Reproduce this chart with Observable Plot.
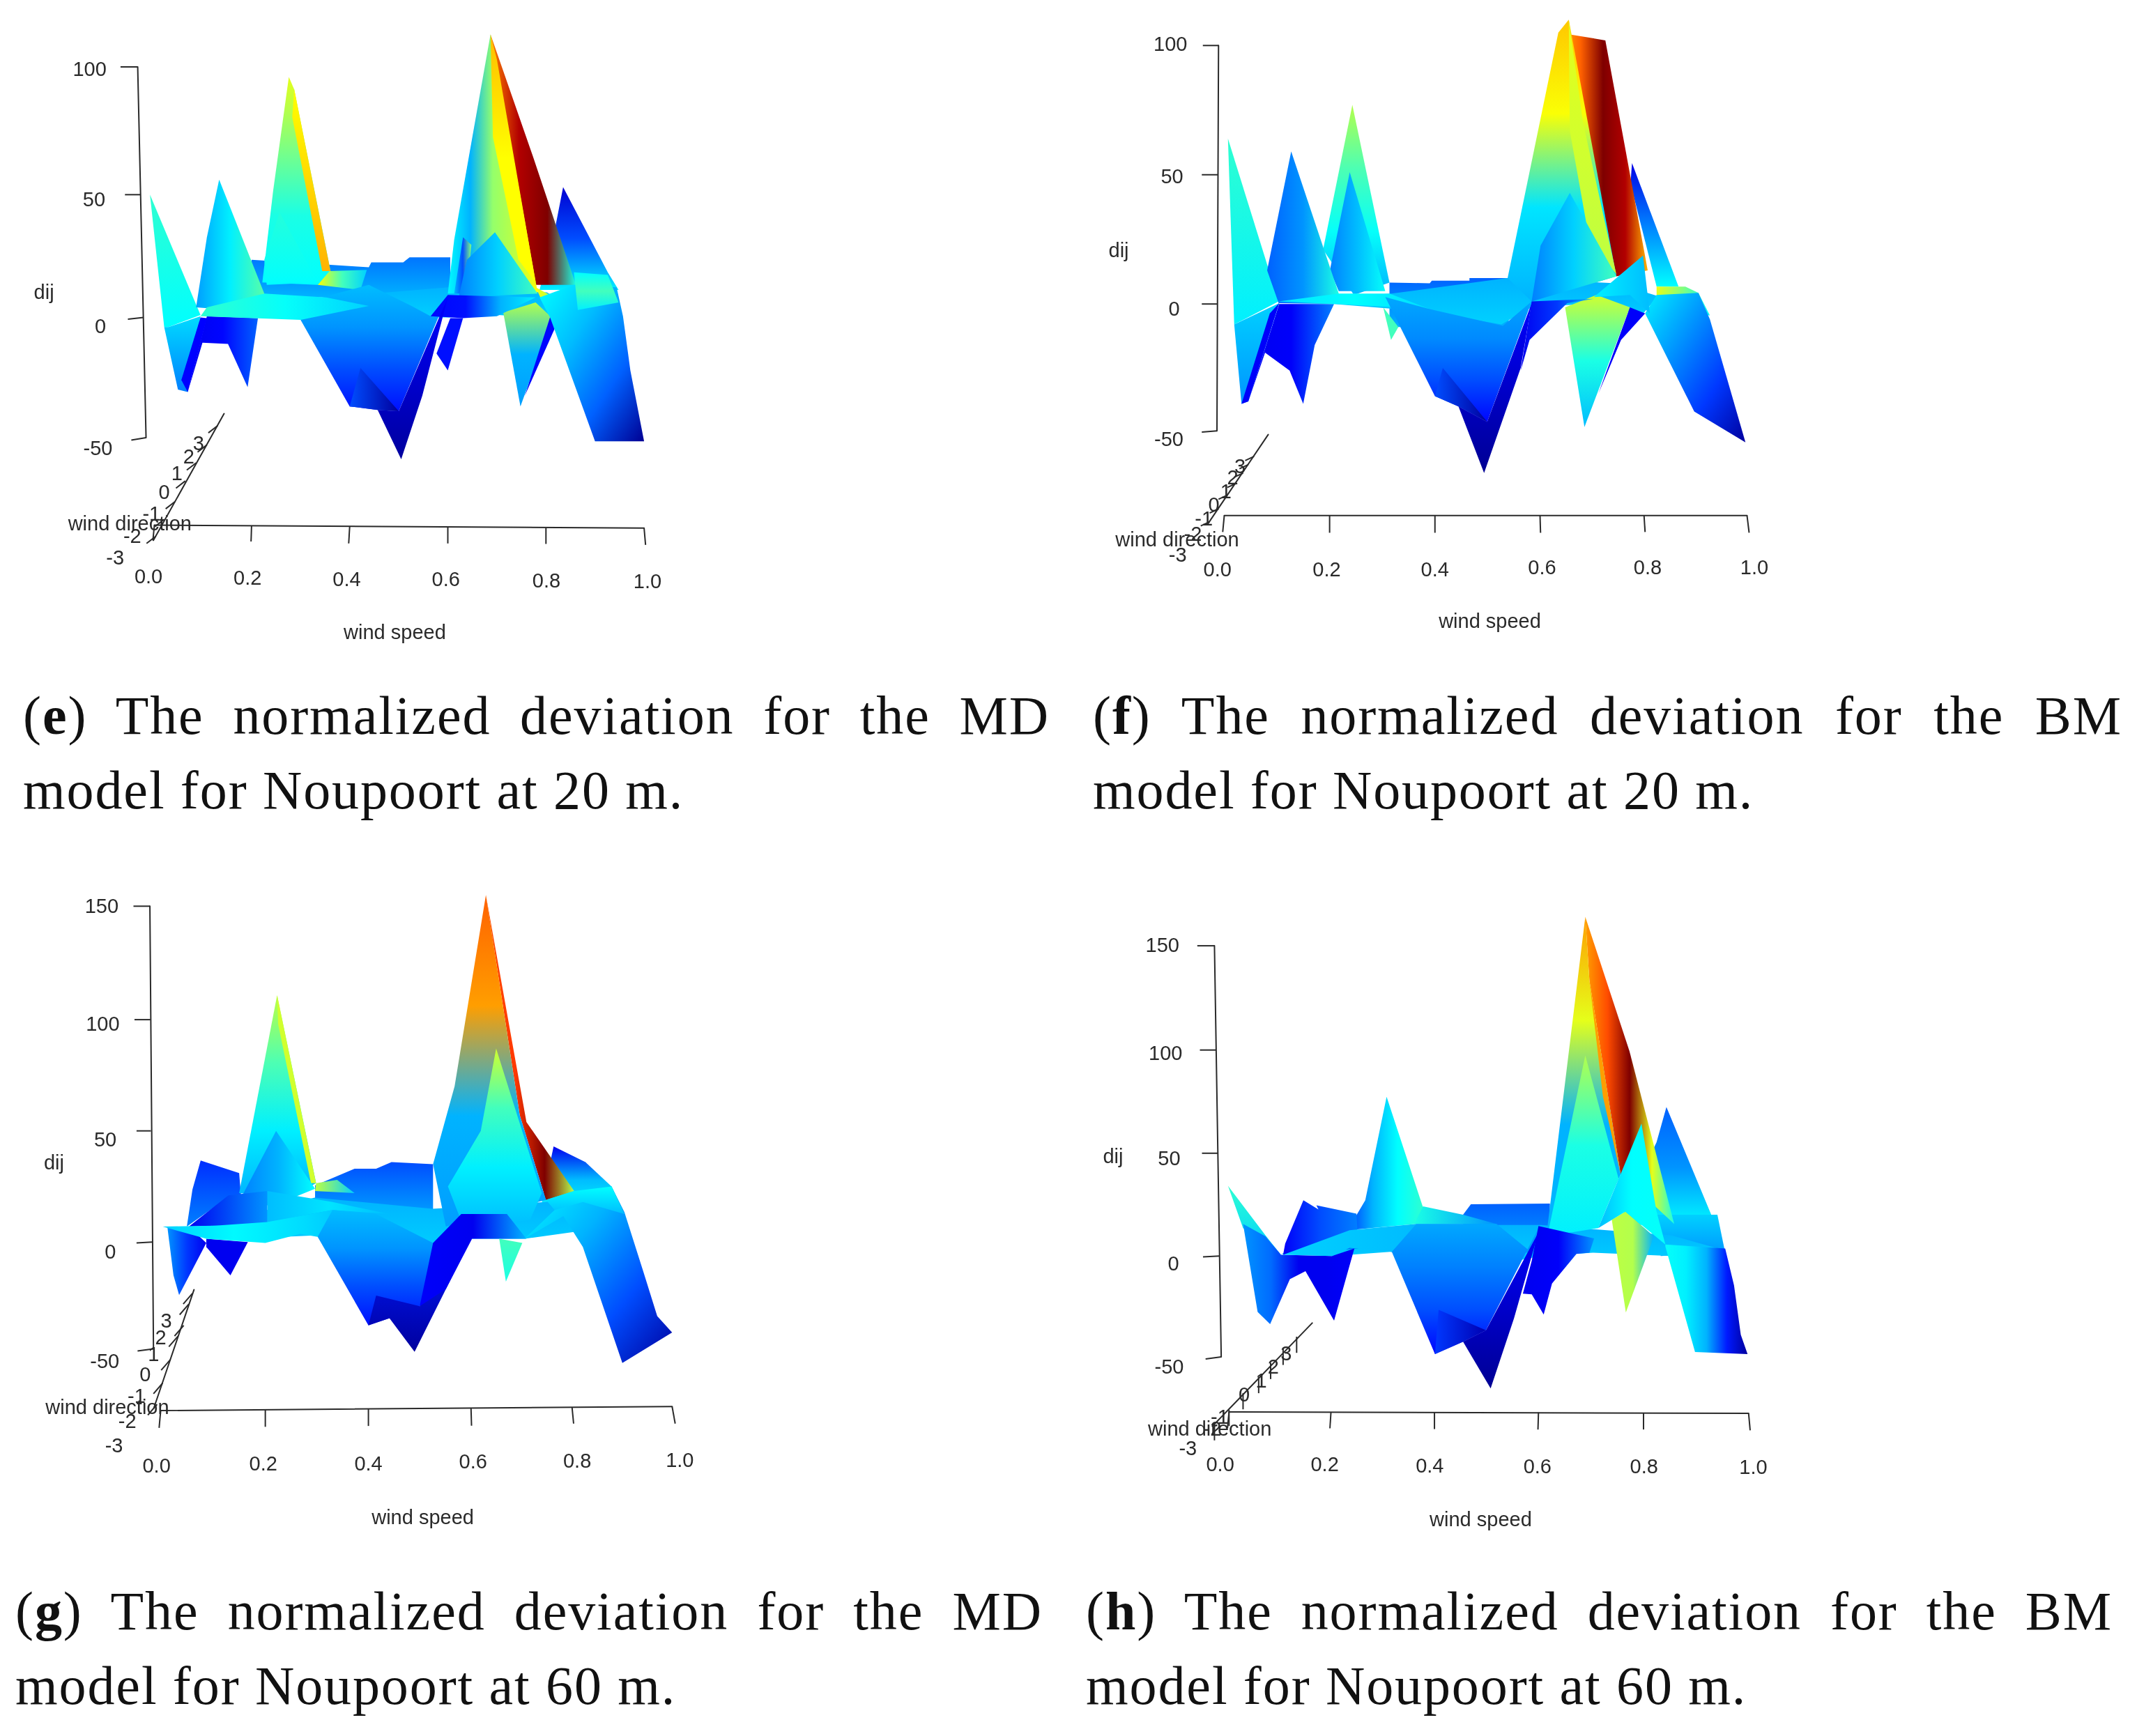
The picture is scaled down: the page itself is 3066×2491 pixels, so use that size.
<!DOCTYPE html>
<html><head><meta charset="utf-8">
<script src="https://cdn.jsdelivr.net/npm/d3@7"></script>
<script src="https://cdn.jsdelivr.net/npm/@observablehq/plot@0.6"></script>
<style>
html,body{margin:0;background:#fff}
#page{position:relative;width:3066px;height:2491px;overflow:hidden;background:#fff}
#page svg{position:absolute;background:transparent;filter:blur(.7px)}
.cap{position:absolute;font-family:"Liberation Serif",serif;font-size:78px;line-height:107px;color:#111;letter-spacing:1.9px;white-space:nowrap}
.cap .l1{display:block;white-space:normal;text-align:justify;text-align-last:justify}
.cap .l2{display:block}
</style></head><body><div id="page"></div>
<script>
// Facets: [jet values along the gradient, gradient direction, [windSpeed, dij, windSpeed, dij, ...]]
const facetsE = [
 [[.08,.2,.36],"v",[.833,52,.924,18,.946,11,.785,11,.818,37]],
 [[.24,.3],"v",[.198,23,.437,20,.442,22,.507,22,.52,24,.603,24,.603,8,.198,8]],
 [[.3,.33],"v",[.107,4,.35,8,.6,12,.8,10,.86,3,.8,-.3,.7,1,.6,0,.3,0,.11,.5]],
 [[.75,.95,1,.4],"h",[.685,113,.772,64,.859,13,.777,13,.698,101]],
 [[.37,.3,.52,.56,.62],"h",[.685,113,.611,31,.598,9.5,.781,10,.694,105]],
 [[.69,.625,.625],"v",[.685,113,.698,103,.777,14,.742,23,.69,72]],
 [[.3,.2,.5],"h",[.629,32,.611,9.5,.637,9.5,.646,29]],
 [[.25,.33,.44],"h",[.694,34,.781,9.5,.62,8,.637,23]],
 [[.62,.44],"h",[.777,12,.863,3,.789,7]],
 [[.6,.5,.4,.375],"v",[.274,96,.285,91,.359,18.5,.333,13,.22,14,.242,50.5]],
 [[.625,.7],"v",[.285,91,.359,18.5,.342,18.5,.281,80]],
 [[.41,.375],"v",[.255,42,.333,14,.229,13,.224,23]],
 [[.62,.44,.33],"h",[.357,18.5,.433,19,.42,11,.333,13]],
 [[.55,.3,.28],"v",[.711,2,.746,-37,.811,-.3,.777,6]],
 [[.13],"v",[.755,-32.5,.807,.5,.816,-4.6]],
 [[.375,.31,.22,.02],"d",[.785,8,.855,13,.942,12,.955,.5,.97,-22,.998,-51.5,.898,-51.5,.807,-.3]],
 [[.375,.44,.36],"v",[.855,18,.924,17,.946,6,.863,3]],
 [[.42,.375],"v",[-.009,49,.094,1,.029,-4,.02,-4]],
 [[.34,.25],"v",[.02,-4,.048,-30,.068,-31,.094,.5,.029,-4]],
 [[.11,.13,.22],"h",[.107,.5,.211,-.3,.19,-29,.15,-11,.098,-10.5,.068,-31]],
 [[.125],"v",[.055,-26,.068,-31,.107,-.3,.094,0]],
 [[.28,.36,.46],"h",[.132,55,.224,9.5,.216,2,.085,4,.107,32]],
 [[.31,.27,.2,.14],"v",[.298,-1,.398,-37,.455,-38.5,.498,-39,.598,9,.563,.5,.524,4.6,.437,13,.342,8,.298,6]],
 [[.2,.03],"h",[.398,-37,.455,-38.5,.498,-39,.42,-21]],
 [[.42,.38,.33],"h",[.094,.5,.107,4,.224,9.5,.35,8,.437,4.6,.298,-1]],
 [[.14],"v",[.629,-.3,.598,-22,.575,-15,.603,-.3]],
 [[.13,.14,.3,.36],"h",[.598,9,.777,8,.698,.5,.629,-.3,.563,.5]],
 [[.125,.03],"v",[.455,-38.5,.503,-59,.546,-32.5,.598,8,.498,-39]]
];
const facetsF = [
 [[.1,.25,.375],"v",[.78,54.5,.869,6.7,.827,6.7,.777,46.6]],
 [[.22,.3],"v",[.316,8.3,.393,8,.397,9,.469,9,.469,10,.544,10,.544,-9,.316,-9]],
 [[.3,.33],"v",[.104,1,.32,4,.54,10,.75,8,.83,3,.8,-4,.7,0,.59,-1,.53,-8,.39,-3,.21,0]],
 [[.69,.78,1,.95,.7],"h",[.639,105,.729,102,.81,13,.75,10.7,.652,104]],
 [[.68,.62,.35,.3],"v",[.639,105,.659,110,.75,10.7,.588,1,.542,10]],
 [[.6,.56],"v",[.659,110,.686,70.5,.75,11.5,.699,24,.661,67]],
 [[.25,.33,.44],"h",[.661,43,.75,10.7,.588,1,.605,22.6]],
 [[.58,.4,.31],"v",[.652,-1.3,.689,-48,.776,-1.3,.712,3.5]],
 [[.12],"v",[.716,-34.8,.776,-1.3,.805,-3.7,.759,-14]],
 [[.6,.5,.375],"h",[.827,6.7,.882,6.7,.907,4.3,.929,-4.5,.827,.3]],
 [[.36,.27,.18,.03],"d",[.805,-3.7,.827,3.5,.907,4.3,.929,-6,.997,-54,.899,-42]],
 [[.36,.31],"h",[.707,2.7,.801,18.7,.814,-3.7,.776,3.5]],
 [[.55,.45,.38,.3],"v",[.245,77,.316,8.3,.248,3.5,.189,21]],
 [[.25,.31,.38],"h",[.24,51,.308,5,.219,5,.202,13]],
 [[.44],"v",[.304,-1.3,.319,-14,.333,-9]],
 [[.42,.36],"v",[.007,64,.104,1,.019,-8]],
 [[.33,.27],"v",[.019,-8,.033,-39,.046,-38,.105,.3]],
 [[.12],"v",[.033,-39,.046,-38,.105,.3,.087,-3.7]],
 [[.11,.12,.25],"h",[.105,0,.21,0,.173,-16,.151,-39,.125,-26,.078,-19,.046,-38]],
 [[.22,.27,.4],"h",[.128,59,.219,4,.21,0,.104,.3,.082,13]],
 [[.35,.375,.34],"h",[.104,1,.219,4,.316,4,.393,-2,.214,0]],
 [[.29,.26,.2,.13],"v",[.308,2.7,.403,-36,.448,-40,.503,-46,.588,1,.533,-8.5,.393,-2]],
 [[.2,.03],"h",[.403,-36,.448,-40,.503,-46,.418,-25]],
 [[.125,.02],"v",[.448,-40,.497,-66,.567,-25,.588,.3,.503,-46]],
 [[.11,.18,.31],"h",[.588,1,.707,2,.656,.3,.584,-14,.567,-26]]
];
const facetsG = [
 [[.11,.31,.38],"v",[.766,43,.828,36,.879,25,.904,12.6,.743,18]],
 [[.2,.28],"v",[.301,25.5,.378,33,.42,33,.45,36,.531,35,.531,12.6,.301,12.6]],
 [[.17,.25],"v",[.051,7,.062,23.7,.078,36.7,.153,31,.157,20,.106,16]],
 [[.3,.33],"v",[.1,8,.3,20,.53,15,.75,18,.82,20,.82,5,.71,1.5,.6,1.5,.5,-5,.3,3,.2,2,.09,2]],
 [[.8,.82,1,.55],"h",[.634,156,.713,54,.806,23,.751,19,.7,57]],
 [[.78,.72,.3,.28],"v",[.634,156,.573,70,.531,35,.556,7,.751,19,.7,57]],
 [[.58,.44,.36,.31],"v",[.654,87,.743,22,.72,10,.59,7,.56,25,.624,50]],
 [[.56,.45,.36,.3],"v",[.227,111,.303,26.5,.25,20,.153,22]],
 [[.58],"v",[.227,111,.303,26.5,.293,26.5,.229,98]],
 [[.25,.3,.375],"h",[.225,50,.301,24,.216,16,.157,20]],
 [[.56,.33],"h",[.303,26.5,.344,28,.378,22,.301,23]],
 [[.11,.27],"h",[.055,7,.132,21,.208,23,.208,7,.106,7.4]],
 [[.31,.35,.31],"h",[.208,23,.335,18,.446,12.6,.335,14.4,.208,9]],
 [[.27,.18,.11],"h",[.013,7,.025,-15.6,.036,-24.8,.089,-.4,.055,7]],
 [[.11],"v",[.089,1.5,.17,0,.136,-15.6,.089,-2.3]],
 [[.33,.37,.34,.3],"h",[.004,7,.106,7.4,.208,9,.335,14.4,.42,12.6,.306,2.4,.272,3.7,.204,-.4,.089,1.5]],
 [[.31,.27,.2,.14],"v",[.306,2.4,.405,-39,.446,-35.6,.505,-30,.603,1.5,.531,-.4,.42,12.6,.335,14.4]],
 [[.15,.03],"v",[.405,-39,.446,-35.6,.495,-51.4,.556,-22,.603,.6,.505,-30,.42,-25]],
 [[.12,.11,.3],"h",[.531,-.4,.586,12.6,.675,12.6,.713,1.5,.607,1.5,.556,-22,.505,-30]],
 [[.44,.4],"v",[.66,1.5,.673,-18.5,.705,-.4]],
 [[.37,.3,.2,.03],"d",[.709,1.5,.768,14.4,.806,23,.879,25,.904,13.5,.942,-14.7,.968,-34.7,.997,-42.3,.9,-56.6,.823,-2.3,.785,11.7]],
 [[.375,.31],"v",[.751,19,.806,23,.879,25,.904,12.6,.823,18,.768,14.4]]
];
const facetsH = [
 [[.22,.27,.375],"v",[.841,72,.928,19.5,.745,13.5,.822,55]],
 [[.33,.27],"v",[.822,20,.939,20,.954,1.6,.83,0]],
 [[.22,.28],"v",[.45,20,.465,25,.617,25.4,.617,1.6,.45,1.6]],
 [[.3,.33],"v",[.1,1,.23,12,.36,15,.6,15,.85,10,.95,3,.85,0,.7,1.6,.6,0,.5,-5,.31,2,.2,0]],
 [[.72,.8,1,.6,.4],"h",[.685,164,.77,99,.856,15.5,.753,39.4,.693,133]],
 [[.72,.6,.3,.3],"v",[.685,164,.612,13.5,.71,15.5,.753,39.4,.693,133]],
 [[.55,.4,.36],"v",[.685,97,.749,37.4,.71,13.5,.612,9.5]],
 [[.72],"v",[.693,133,.753,39.4,.719,77]],
 [[.56,.55,.3],"h",[.736,17.5,.763,-28,.817,9.5,.762,21.5]],
 [[.31,.375,.38],"h",[.793,64,.822,21.5,.839,5.6,.762,21.5,.71,13.5]],
 [[.18,.3,.375,.42],"h",[.303,77,.373,23.5,.36,15.5,.228,12.5,.262,27]],
 [[.4,.27],"h",[.373,24,.45,20,.514,15.5,.356,15.5]],
 [[.42,.33],"v",[-.002,34,.07,10,.1,.6,.027,13.5]],
 [[.12,.2,.25],"h",[.108,6,.143,27,.172,22.5,.168,24.5,.245,20.5,.249,3.6,.104,.6]],
 [[.27,.23,.11,.11,.12],"h",[.027,15.5,.055,-27.7,.079,-33.8,.117,-11.5,.147,-7.5,.202,-32,.241,3.6,.198,0,.1,.6,.07,9.5]],
 [[.33,.31,.27],"h",[.104,.6,.232,12.5,.36,15.5,.514,15.5,.582,1.6,.313,2,.232,4,.198,0]],
 [[.29,.25,.2,.13],"v",[.313,2,.396,-48.6,.45,-42.5,.494,-36.8,.595,13.5,.582,1.6,.514,15.5,.36,15.5]],
 [[.18,.05],"h",[.396,-48.6,.45,-42.5,.494,-36.8,.403,-26.7]],
 [[.125,.02],"v",[.45,-42.5,.503,-65.6,.548,-30.8,.595,11.5,.494,-36.8]],
 [[.11,.12,.27],"h",[.595,14.5,.702,8.5,.693,1.6,.668,1,.621,-13.6,.605,-29,.582,-19,.565,-18.6,.582,-2.4]],
 [[.38,.36,.3,.15,.03],"h",[.839,5.6,.954,3.6,.971,-14.6,.984,-39,.997,-48.6,.896,-47.6,.839,4.6]]
];

// Axis lines [windSpeed, dij]
const dijLineE=[[-.034,100],[-.017,-50]], speedLineE=[[0,-86.4],[.998,-87.6]], dirLineE=[[-.002,-92.7],[.142,-40]];
const dijLineF=[[-.011,100],[-.014,-49.5]], speedLineF=[[0,-82.6],[1,-82.6]], dirLineF=[[-.032,-86],[.084,-51]];
const dijLineG=[[-.021,151],[-.014,-50]], speedLineG=[[0,-78.9],[.997,-77]], dirLineG=[[-.013,-77.5],[.065,-22.3]];
const dijLineH=[[-.028,150],[-.015,-50]], speedLineH=[[0,-77.3],[.999,-78]], dirLineH=[[-.032,-84.4],[.16,-33.2]];

// Tick marks [w1,d1,w2,d2]
const dijTicksE=[[-.034,100,-.069,100],[-.028,49,-.06,49],[-.022,0,-.054,-.7],[-.017,-50,-.047,-51]];
const dijTicksF=[[-.011,100,-.041,100],[-.012,50,-.043,50],[-.013,0,-.043,0],[-.014,-49.5,-.043,-50]];
const dijTicksG=[[-.021,151,-.053,151],[-.02,100,-.051,100],[-.019,50,-.047,50],[-.017,0,-.047,-.4],[-.014,-50,-.045,-51]];
const dijTicksH=[[-.028,150,-.061,150],[-.025,99.6,-.056,99.6],[-.021,49.7,-.052,49.7],[-.018,0,-.05,-.4],[-.015,-50,-.045,-51]];
const speedTicksE=[[0,-86.4,-.003,-92.7],[.198,-86.8,.197,-93.2],[.398,-87,.396,-94],[.598,-87.3,.598,-94],[.798,-87.5,.798,-94.2],[.998,-87.6,1.001,-94.6]];
const speedTicksF=[[0,-82.6,-.003,-89],[.2015,-82.6,.2015,-89.3],[.403,-82.6,.403,-89.3],[.604,-82.6,.605,-89.3],[.803,-82.6,.805,-89],[1,-82.6,1.004,-89.3]];
const speedTicksG=[[0,-78.9,-.003,-87],[.204,-78.5,.204,-86.5],[.405,-78.1,.405,-86.1],[.605,-77.9,.606,-86],[.802,-77.5,.805,-85],[.997,-77,1.003,-85]];
const speedTicksH=[[0,-77.3,-.003,-85.4],[.196,-77.3,.194,-85.4],[.395,-77.3,.395,-85.8],[.595,-77.5,.594,-86],[.797,-77.7,.797,-86],[.999,-78,1.002,-86.4]];
const dirTicksE=[[.003,-91,-.016,-94],[.02,-84,.001,-87],[.042,-76.6,.023,-79.6],[.063,-68,.044,-71],[.085,-60.5,.066,-63.5],[.107,-53,.088,-56],[.129,-45,.11,-48]];
const dirTicksF=[[-.028,-85,-.045,-86.6],[-.011,-80,-.028,-81.6],[.006,-74.6,-.011,-76.2],[.023,-70,.006,-71.6],[.036,-66,.019,-67.6],[.046,-62.7,.029,-64.3],[.057,-59.5,.04,-61.1]];
const dirTicksG=[[-.007,-76,-.025,-81],[.004,-66,-.014,-71],[.019,-55,.001,-60],[.034,-44,.016,-49],[.045,-39,.027,-44],[.055,-29,.037,-34],[.062,-24,.044,-29]];
const dirTicksH=[[-.028,-83.4,-.028,-91.4],[0,-76.3,0,-84.3],[.027,-68,.027,-76],[.057,-60,.057,-68],[.08,-53,.08,-61],[.104,-46,.104,-54],[.13,-40,.13,-48]];

// Tick labels [text, windSpeed, dij]
const labelsE=[["100",-.132,99],["50",-.123,47],["0",-.11,-3.7],["-50",-.115,-54.6],
 ["0.0",-.012,-108],["0.2",.19,-108.5],["0.4",.392,-109],["0.6",.594,-109],["0.8",.799,-109.7],["1.0",1.005,-110],
 ["-3",-.08,-100],["-2",-.045,-91],["-1",-.006,-81.7],["0",.02,-72.9],["1",.046,-65],["2",.07,-58],["3",.09,-52.4],
 ["wind direction",-.05,-86],["wind speed",.49,-131],["dij",-.225,10]];
const labelsF=[["100",-.103,100.3],["50",-.1,49.3],["0",-.096,-2],["-50",-.106,-53],
 ["0.0",-.013,-103.7],["0.2",.196,-103.7],["0.4",.403,-103.7],["0.6",.608,-103],["0.8",.81,-103],["1.0",1.014,-103],
 ["-3",-.089,-98],["-2",-.06,-90],["-1",-.039,-84],["0",-.02,-78.6],["1",.003,-73.4],["2",.016,-68],["3",.03,-63.5],
 ["wind direction",-.09,-92],["wind speed",.508,-124],["dij",-.202,20.6]];
const labelsG=[["150",-.115,151],["100",-.113,98],["50",-.108,46],["0",-.098,-4.8],["-50",-.109,-56],
 ["0.0",-.008,-105],["0.2",.2,-104],["0.4",.405,-103.8],["0.6",.609,-103],["0.8",.812,-102.7],["1.0",1.012,-102.3],
 ["-3",-.091,-95.6],["-2",-.065,-84],["-1",-.047,-72.4],["0",-.03,-62.3],["1",-.014,-52.8],["2",0,-45],["3",.011,-37],
 ["wind direction",-.104,-77.5],["wind speed",.511,-129],["dij",-.208,35.7]];
const labelsH=[["150",-.128,150],["100",-.122,98],["50",-.115,47],["0",-.107,-4],["-50",-.115,-55],
 ["0.0",-.017,-103.3],["0.2",.184,-103.6],["0.4",.386,-104],["0.6",.593,-104.5],["0.8",.798,-104.5],["1.0",1.008,-105],
 ["-3",-.079,-95.5],["-2",-.032,-86],["-1",-.018,-79.8],["0",.029,-69],["1",.062,-62.1],["2",.085,-55],["3",.11,-48.6],
 ["wind direction",-.037,-86],["wind speed",.484,-130.6],["dij",-.223,48]];

const captionsTop=[["e","The normalized deviation for the MD","model for Noupoort at 20 m."],["f","The normalized deviation for the BM","model for Noupoort at 20 m."]];
const captionsBottom=[["g","The normalized deviation for the MD","model for Noupoort at 60 m."],["h","The normalized deviation for the BM","model for Noupoort at 60 m."]];

const jet=d3.scaleLinear().domain([0,.125,.375,.625,.875,1]).range(["#00007F","#0000FF","#00FFFF","#FFFF00","#FF0000","#7F0000"]);
const page=document.getElementById("page");
const ink="#2a2a2a";

function panel(id,left,top,xRange,yDomain,yRange,facets,axes,ticks,labels){
  const defs=d3.create("svg:defs");
  facets.forEach(([stops,dir],i)=>{
    const g=defs.append("linearGradient").attr("id",`${id}${i}`)
      .attr("x1",0).attr("y1",0).attr("x2",dir==="v"?0:1).attr("y2",dir==="h"?0:1);
    (stops.length>1?stops:[stops[0],stops[0]]).forEach((t,j,a)=>g.append("stop").attr("offset",j/(a.length-1)).attr("stop-color",jet(t)));
  });
  const toPts=f=>d3.range(0,f.length,2).map(i=>({w:f[i],d:f[i+1]}));
  const chart=Plot.plot({
    width:1533,height:1240,margin:0,
    x:{type:"linear",domain:[0,1],range:xRange,axis:null},
    y:{type:"linear",domain:yDomain,range:yRange,axis:null},
    marks:[
      ()=>defs.node(),
      ...axes.map(a=>Plot.line(a,{x:d=>d[0],y:d=>d[1],stroke:ink,strokeWidth:2})),
      Plot.link(ticks,{x1:d=>d[0],y1:d=>d[1],x2:d=>d[2],y2:d=>d[3],stroke:ink,strokeWidth:2}),
      ...facets.map(([,,p],i)=>Plot.line(toPts(p),{x:"w",y:"d",fill:`url(#${id}${i})`,stroke:"none"})),
      Plot.text(labels,{x:d=>d[1],y:d=>d[2],text:d=>d[0],fontSize:29,fill:ink,fontFamily:"Liberation Sans",textAnchor:"middle",lineAnchor:"middle"})
    ]
  });
  chart.style.left=left+"px";chart.style.top=top+"px";
  page.appendChild(chart);
}
panel("e",0,0,[221,925],[-50,0,100],[627.5,455,95.5],facetsE,[dijLineE,speedLineE,dirLineE],[...dijTicksE,...speedTicksE,...dirTicksE],labelsE);
panel("f",1533,0,[223,973],[-50,0,100],[619.5,435.7,64.8],facetsF,[dijLineF,speedLineF,dirLineF],[...dijTicksF,...speedTicksF,...dirTicksF],labelsF);
panel("g",0,1245,[230,966],[-50,0,150],[690,536.8,58],facetsG,[dijLineG,speedLineG,dirLineG],[...dijTicksG,...speedTicksG,...dirTicksG],labelsG);
panel("h",1533,1245,[229.8,976],[-50,0,150],[701.5,556.8,111.6],facetsH,[dijLineH,speedLineH,dirLineH],[...dijTicksH,...speedTicksH,...dirTicksH],labelsH);

function caption([k,a,b],left,width,y){
  const d=document.createElement("div");d.className="cap";
  d.style.left=left+"px";d.style.top=(y-53)+"px";d.style.width=width+"px";
  const l1=document.createElement("span");l1.className="l1";
  l1.append("(");const s=document.createElement("b");s.textContent=k;l1.append(s,") "+a);
  const l2=document.createElement("span");l2.className="l2";l2.textContent=b;
  d.append(l1,l2);page.appendChild(d);
}
caption(captionsTop[0],33,1473,1026);
caption(captionsTop[1],1568,1477,1026);
caption(captionsBottom[0],22,1474,2311);
caption(captionsBottom[1],1558,1473,2311);
</script></body></html>
